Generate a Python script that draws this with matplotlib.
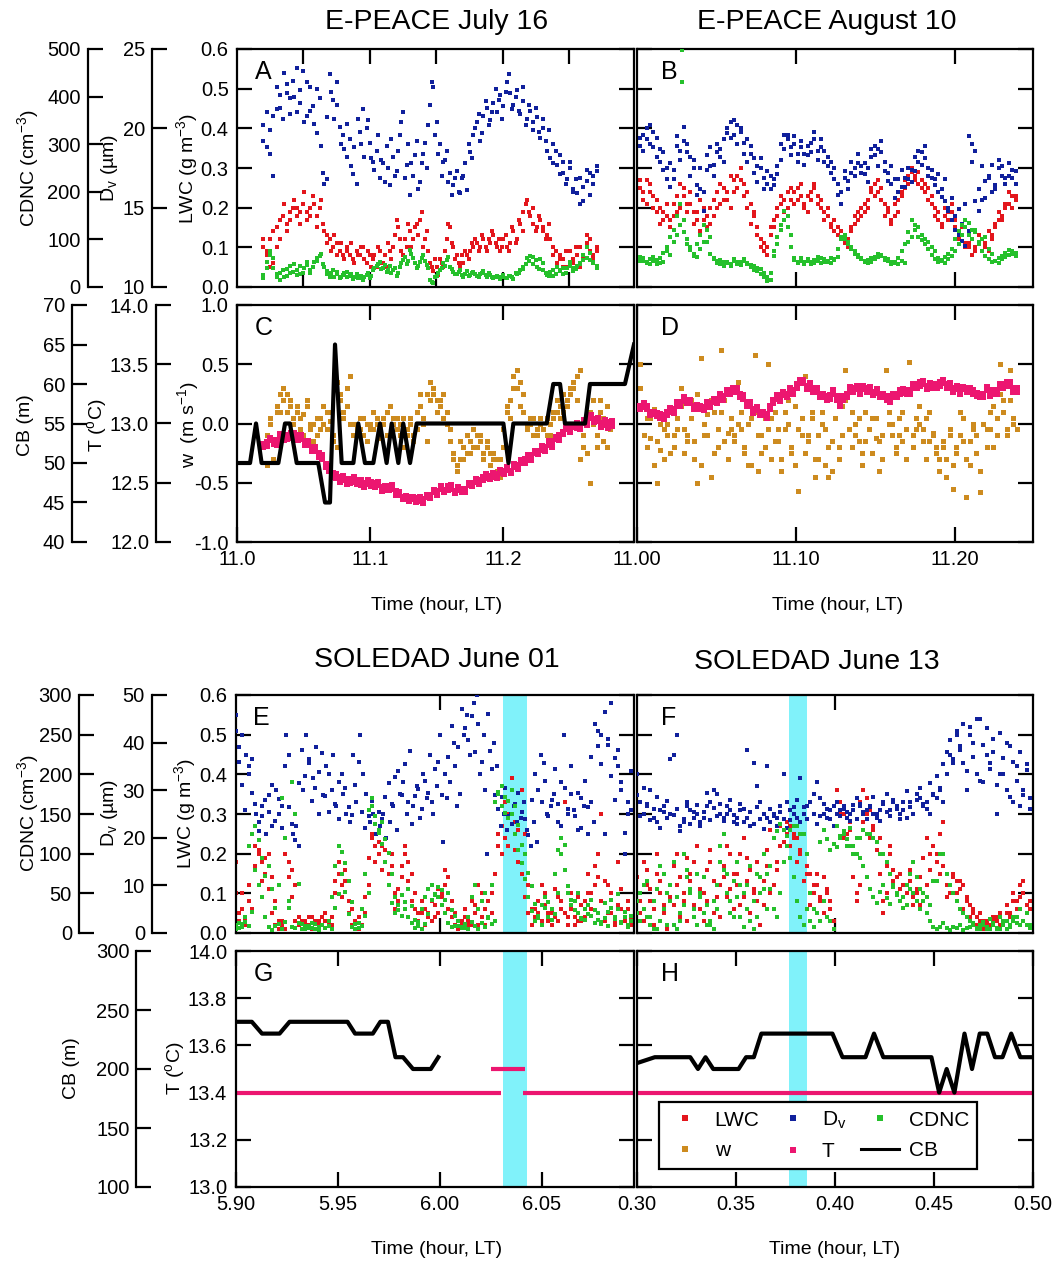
import numpy as np
import matplotlib
matplotlib.use("Agg")
import matplotlib.pyplot as plt
import matplotlib.ticker as mticker
from matplotlib.lines import Line2D

plt.rcParams["font.family"] = ["Liberation Sans", "DejaVu Sans"]
plt.rcParams["mathtext.fontset"] = "custom"
plt.rcParams["mathtext.rm"] = "Liberation Sans"
plt.rcParams["mathtext.default"] = "regular"
plt.rcParams["axes.unicode_minus"] = False

# ── colours ──────────────────────────────────────────────────────────────────
COL_LWC = "#E3161C"
COL_DV = "#10209C"
COL_CDNC = "#25C02B"
COL_W = "#CD8B1F"
COL_T = "#EC1670"
COL_BAND = "#80F2FA"

# ── E-PEACE July 16 (panel A) ────────────────────────────────────────────────
A_t = (11.0198, 11.2704)
A_lwc = [0.10, 0.08, 0.12, 0.06, 0.15, 0.12, 0.18, 0.14, 0.17, 0.20,
         0.18, 0.19, 0.21, 0.17, 0.20, 0.23, 0.18, 0.20, 0.16, 0.13,
         0.12, 0.10, 0.11, 0.09, 0.08, 0.10, 0.08, 0.07, 0.09, 0.08,
         0.10, 0.06, 0.08, 0.07, 0.05, 0.09, 0.06, 0.05, 0.09, 0.10,
         0.17, 0.12, 0.08, 0.10, 0.14, 0.12, 0.16, 0.17, 0.10, 0.14,
         0.06, 0.04, 0.05, 0.07, 0.05, 0.12, 0.15, 0.10, 0.08, 0.05,
         0.06, 0.08, 0.09, 0.10, 0.11, 0.10, 0.12, 0.09, 0.11, 0.13,
         0.10, 0.09, 0.12, 0.10, 0.11, 0.14, 0.12, 0.16, 0.19, 0.22,
         0.18, 0.16, 0.15, 0.17, 0.14, 0.13, 0.12, 0.08, 0.06, 0.08,
         0.07, 0.05, 0.09, 0.06, 0.08, 0.10, 0.07, 0.13, 0.09, 0.08, 0.10]
A_lwc_2 = [0.12, 0.09, 0.05, 0.14, 0.10, 0.17, 0.21, 0.16, 0.19, 0.22,
           0.20, 0.16, 0.24, 0.19, 0.18, 0.21, 0.15, 0.22, 0.14, 0.11,
           0.09, 0.13, 0.08, 0.11, 0.07, 0.09, 0.11, 0.06, 0.08, 0.10,
           0.07, 0.09, 0.05, 0.08, 0.10, 0.06, 0.08, 0.11, 0.07, 0.13,
           0.15, 0.09, 0.12, 0.16, 0.10, 0.15, 0.13, 0.19, 0.12, 0.09,
           0.05, 0.07, 0.03, 0.06, 0.09, 0.16, 0.11, 0.07, 0.06, 0.08,
           0.09, 0.07, 0.11, 0.12, 0.09, 0.13, 0.10, 0.12, 0.14, 0.11,
           0.12, 0.10, 0.13, 0.09, 0.15, 0.11, 0.17, 0.14, 0.21, 0.19,
           0.20, 0.14, 0.18, 0.15, 0.12, 0.16, 0.10, 0.09, 0.07, 0.05,
           0.09, 0.06, 0.07, 0.10, 0.05, 0.08, 0.11, 0.12, 0.07, 0.09]
A_dv = [20.2, 18.8, 19.9, 17.0, 21.2, 22.1, 20.6, 22.8, 21.9, 23.0,
        21.0, 22.4, 23.6, 20.8, 22.6, 21.4, 19.7, 21.9, 17.2, 16.8,
        23.4, 21.8, 22.9, 20.1, 19.6, 18.2, 19.3, 17.1, 16.5, 19.8,
        21.2, 20.0, 19.1, 17.9, 18.6, 16.9, 17.8, 18.9, 16.4, 18.2,
        17.3, 19.6, 21.0, 17.7, 15.8, 17.0, 19.2, 16.6, 18.4, 17.5,
        21.5, 22.6, 20.4, 19.0, 17.9, 18.6, 17.2, 16.4, 17.3, 15.9,
        17.0, 16.1, 18.5, 19.6, 20.4, 19.2, 20.8, 21.3, 20.5, 21.6,
        21.0, 22.1, 21.4, 22.9, 22.2, 21.5, 22.4, 20.9, 21.7, 20.6,
        21.1, 19.9, 20.7, 19.4, 20.0, 18.6, 18.1, 19.0, 17.7, 18.3,
        17.2, 16.8, 17.5, 16.2, 15.9, 16.9, 15.4, 16.7, 17.2, 16.5, 17.6]
A_dv_2 = [19.2, 21.0, 18.4, 20.8, 22.6, 21.3, 23.5, 22.2, 20.9, 22.0,
          23.8, 21.6, 20.4, 22.9, 21.1, 20.3, 22.5, 18.9, 16.5, 20.7,
          22.3, 20.6, 21.5, 19.0, 18.7, 20.3, 17.6, 18.8, 20.6, 19.0,
          18.2, 20.5, 18.1, 17.4, 19.6, 18.0, 16.6, 17.5, 19.3, 17.0,
          18.6, 20.4, 16.9, 19.0, 17.8, 18.3, 16.2, 17.8, 19.1, 20.2,
          22.9, 19.6, 18.4, 17.0, 18.0, 16.6, 15.8, 16.9, 16.0, 16.9,
          17.8, 19.0, 18.1, 20.0, 20.9, 19.7, 21.7, 20.2, 21.0, 22.5,
          21.8, 20.6, 22.3, 23.4, 21.2, 22.0, 21.1, 22.6, 20.2, 21.5,
          20.4, 21.3, 19.8, 20.6, 19.2, 19.9, 17.8, 18.6, 17.1, 17.9,
          16.5, 17.9, 16.0, 16.8, 15.2, 16.3, 17.4, 15.8, 17.0, 17.3]
A_cdnc = [18, 52, 76, 40, 27, 15, 35, 24, 44, 31,
          26, 45, 30, 52, 35, 41, 60, 66, 48, 34,
          22, 35, 27, 18, 26, 31, 24, 16, 27, 19,
          15, 26, 18, 35, 44, 52, 40, 31, 44, 36,
          24, 43, 57, 48, 77, 60, 40, 52, 68, 47,
          15, 8, 24, 35, 50, 57, 43, 31, 27, 35,
          22, 34, 26, 31, 24, 27, 33, 22, 26, 18,
          24, 16, 26, 19, 23, 17, 27, 35, 41, 60,
          66, 49, 43, 58, 35, 26, 31, 24, 41, 35,
          27, 40, 52, 34, 44, 49, 68, 85, 57, 50, 40]
A_cdnc_2 = [25, 40, 68, 60, 20, 30, 22, 38, 30, 48,
            36, 28, 40, 46, 30, 52, 55, 70, 42, 28,
            30, 20, 32, 22, 30, 20, 28, 22, 18, 24,
            20, 30, 24, 40, 48, 38, 46, 36, 30, 40,
            30, 50, 62, 55, 70, 50, 45, 60, 55, 40,
            10, 20, 30, 40, 45, 62, 38, 28, 32, 25,
            28, 24, 30, 28, 20, 30, 26, 30, 20, 22,
            20, 22, 18, 24, 20, 30, 30, 38, 48, 55,
            62, 56, 38, 50, 30, 24, 36, 28, 34, 40,
            30, 44, 40, 38, 50, 56, 60, 72, 52, 45]

# ── E-PEACE August 10 (panel B) ──────────────────────────────────────────────
B_t = (11.0019, 11.238)
B_lwc = [0.25, 0.22, 0.27, 0.24, 0.23, 0.19, 0.20, 0.17, 0.18, 0.15,
         0.21, 0.19, 0.26, 0.23, 0.21, 0.24, 0.19, 0.17, 0.14, 0.20,
         0.18, 0.16, 0.22, 0.20, 0.26, 0.22, 0.24, 0.20, 0.27, 0.25,
         0.30, 0.26, 0.24, 0.21, 0.18, 0.15, 0.12, 0.09, 0.10, 0.13,
         0.15, 0.18, 0.21, 0.19, 0.24, 0.22, 0.21, 0.25, 0.23, 0.20,
         0.19, 0.24, 0.26, 0.23, 0.22, 0.19, 0.18, 0.15, 0.17, 0.13,
         0.14, 0.11, 0.12, 0.15, 0.16, 0.19, 0.18, 0.21, 0.20, 0.24,
         0.23, 0.27, 0.25, 0.21, 0.19, 0.17, 0.18, 0.22, 0.23, 0.25,
         0.26, 0.29, 0.28, 0.26, 0.27, 0.24, 0.25, 0.21, 0.20, 0.17,
         0.16, 0.18, 0.19, 0.21, 0.17, 0.14, 0.15, 0.11, 0.10, 0.12,
         0.09, 0.11, 0.12, 0.10, 0.09, 0.13, 0.15, 0.17, 0.18, 0.20,
         0.21, 0.23, 0.22]
B_lwc_2 = [0.27, 0.24, 0.21, 0.26, 0.20, 0.22, 0.16, 0.19, 0.21, 0.17,
           0.18, 0.23, 0.20, 0.25, 0.19, 0.21, 0.16, 0.19, 0.22, 0.17,
           0.15, 0.20, 0.18, 0.24, 0.21, 0.25, 0.22, 0.28, 0.24, 0.28,
           0.27, 0.23, 0.20, 0.16, 0.19, 0.13, 0.10, 0.11, 0.08, 0.15,
           0.17, 0.20, 0.23, 0.22, 0.20, 0.25, 0.24, 0.22, 0.26, 0.21,
           0.23, 0.22, 0.25, 0.21, 0.20, 0.17, 0.20, 0.16, 0.14, 0.15,
           0.12, 0.13, 0.10, 0.14, 0.18, 0.17, 0.20, 0.19, 0.22, 0.25,
           0.26, 0.24, 0.22, 0.18, 0.20, 0.16, 0.21, 0.19, 0.24, 0.27,
           0.28, 0.30, 0.27, 0.29, 0.25, 0.26, 0.22, 0.23, 0.18, 0.19,
           0.15, 0.20, 0.17, 0.19, 0.15, 0.12, 0.13, 0.10, 0.11, 0.08,
           0.10, 0.13, 0.09, 0.11, 0.14, 0.12, 0.16, 0.19, 0.17, 0.21,
           0.24, 0.20, 0.23]
B_dv = [18.9, 19.6, 19.3, 20.2, 18.8, 19.4, 18.7, 17.4, 17.5, 16.3,
        16.8, 18.9, 18.0, 20.1, 19.0, 18.2, 17.5, 16.4, 16.2, 14.8,
        18.3, 17.6, 17.7, 18.5, 18.7, 17.9, 20.0, 19.4, 20.5, 20.2,
        19.8, 19.1, 19.3, 18.4, 18.1, 17.6, 17.5, 16.9, 17.3, 16.2,
        16.8, 17.1, 18.0, 19.6, 19.3, 18.8, 19.0, 18.4, 18.8, 17.7,
        18.3, 19.1, 19.3, 18.6, 18.8, 17.9, 18.2, 17.2, 17.5, 15.8,
        16.0, 16.9, 16.7, 17.2, 17.5, 17.8, 17.6, 17.1, 17.5, 18.2,
        18.3, 18.7, 18.5, 17.3, 17.2, 16.5, 16.8, 16.0, 16.3, 16.9,
        16.8, 17.4, 17.3, 17.9, 18.5, 18.1, 17.5, 16.9, 16.8, 16.0,
        16.2, 15.4, 14.8, 14.2, 13.6, 13.3, 14.0, 12.6, 13.5, 19.0,
        18.6, 14.8, 15.5, 16.7, 17.0, 16.0, 16.4, 17.5, 17.6, 16.9,
        17.0, 17.4, 16.5]
B_dv_2 = [19.4, 18.6, 20.0, 19.0, 19.8, 18.2, 17.9, 18.5, 16.8, 17.8,
          17.4, 19.5, 18.6, 19.2, 18.5, 17.0, 18.0, 15.8, 17.5, 16.0,
          17.4, 18.8, 17.0, 19.0, 18.2, 19.3, 19.7, 20.4, 19.6, 19.0,
          20.0, 18.4, 17.9, 18.9, 17.2, 16.6, 18.1, 16.2, 16.5, 17.0,
          16.4, 17.6, 19.0, 18.7, 19.6, 18.3, 19.5, 17.9, 19.2, 18.4,
          18.9, 18.5, 19.8, 18.0, 19.3, 18.6, 17.6, 17.9, 16.8, 16.5,
          15.2, 17.3, 16.2, 17.9, 17.0, 18.4, 17.2, 17.8, 16.6, 18.7,
          18.9, 17.6, 19.2, 17.9, 16.7, 17.6, 15.6, 16.8, 17.4, 16.3,
          17.5, 16.6, 18.2, 18.6, 17.7, 18.9, 17.0, 17.4, 16.4, 17.1,
          15.7, 16.8, 15.0, 15.6, 14.5, 14.9, 12.9, 15.2, 19.5, 17.9,
          15.4, 16.2, 17.6, 15.6, 16.9, 17.7, 16.2, 18.0, 17.0, 16.5,
          17.8, 16.9, 17.3]
B_cdnc = [62, 55, 50, 58, 54, 48, 60, 52, 75, 68,
          95, 110, 130, 140, 100, 85, 70, 62, 80, 95,
          120, 105, 60, 55, 48, 52, 50, 45, 55, 48,
          52, 58, 50, 46, 44, 40, 38, 30, 20, 15,
          65, 90, 120, 140, 150, 110, 60, 52, 55, 48,
          58, 52, 50, 55, 60, 52, 55, 50, 58, 62,
          100, 110, 95, 85, 75, 68, 60, 55, 50, 52,
          58, 62, 68, 60, 58, 52, 50, 48, 55, 50,
          95, 105, 130, 125, 110, 100, 95, 85, 75, 60,
          55, 50, 58, 65, 75, 90, 110, 125, 135, 120,
          115, 95, 100, 105, 80, 70, 55, 50, 58, 62,
          68, 75, 72]
B_cdnc_2 = [55, 60, 52, 48, 62, 56, 50, 72, 85, 105,
            120, 150, 175, 115, 90, 78, 65, 90, 110, 130,
            95, 70, 58, 50, 56, 44, 52, 48, 58, 52,
            46, 54, 48, 42, 36, 34, 28, 22, 12, 30,
            75, 105, 130, 160, 125, 85, 56, 50, 60, 52,
            54, 48, 56, 62, 50, 58, 52, 60, 56, 80,
            105, 100, 90, 80, 70, 62, 58, 52, 56, 60,
            64, 70, 66, 56, 54, 48, 52, 60, 75, 90,
            115, 140, 120, 105, 98, 90, 80, 68, 58, 52,
            56, 62, 70, 80, 100, 118, 130, 140, 110, 100,
            120, 90, 75, 66, 58, 52, 55, 60, 65, 72,
            78, 70, 66]
B_cdnc_out_t = [11.028, 11.028]
B_cdnc_out = [497, 431]

# ── panel C ──────────────────────────────────────────────────────────────────
C_w_t = (11.0223, 11.2805)
C_w = [-0.10, 0.05, -0.30, 0.15, 0.10, 0.20, 0.25, 0.15, 0.05, 0.10,
       -0.05, 0.08, 0.15, -0.05, 0.00, -0.10, 0.05, 0.00, 0.10, 0.02,
       -0.10, -0.20, 0.25, 0.10, 0.30, 0.40, 0.00, -0.05, 0.05, -0.10,
       0.00, -0.05, 0.10, 0.00, -0.12, 0.05, -0.10, 0.15, 0.05, -0.05,
       0.00, -0.20, -0.10, 0.05, -0.15, -0.05, 0.25, 0.00, -0.15, 0.20,
       0.30, 0.20, 0.15, 0.25, 0.10, -0.05, -0.25, -0.40, -0.30, -0.20,
       -0.25, -0.15, -0.20, -0.10, -0.15, -0.30, -0.20, -0.25, -0.30, -0.40,
       -0.45, -0.20, 0.15, 0.05, 0.30, 0.45, 0.35, 0.25, 0.00, 0.05,
       -0.10, -0.05, 0.05, -0.20, -0.10, 0.00, 0.10, 0.20, 0.05, 0.25,
       0.15, 0.30, 0.35, 0.40, 0.45, -0.20, 0.05, -0.50, 0.20, -0.10,
       0.10, -0.15, 0.15, -0.05]
C_w_2 = [-0.35, 0.00, -0.15, 0.10, 0.25, 0.30, 0.10, 0.20, 0.00, 0.15,
         0.05, -0.10, 0.20, 0.00, -0.15, 0.05, -0.05, 0.15, -0.05, 0.10,
         -0.15, 0.35, 0.20, 0.05, 0.15, 0.00, -0.10, 0.00, -0.05, 0.05,
         -0.15, 0.00, -0.05, 0.05, -0.05, 0.00, 0.10, -0.10, 0.00, 0.05,
         -0.10, 0.05, -0.05, 0.00, -0.10, 0.10, 0.15, 0.05, 0.25, 0.35,
         0.25, 0.10, 0.20, 0.05, 0.00, -0.15, -0.30, -0.35, -0.15, -0.30,
         -0.10, -0.25, -0.05, -0.20, -0.10, -0.25, -0.15, -0.35, -0.25, -0.30,
         -0.30, -0.05, 0.10, 0.20, 0.40, 0.30, 0.15, 0.10, -0.05, 0.00,
         0.05, -0.10, 0.00, -0.05, 0.05, -0.10, 0.05, 0.10, 0.15, 0.10,
         0.20, 0.25, 0.30, 0.20, -0.30, -0.10, -0.25, 0.10, 0.00, -0.20,
         0.20, 0.05, -0.20, 0.00]
C_T_t = (11.0196, 11.2817)
C_T = [12.80, 12.84, 12.86, 12.83, 12.85, 12.88, 12.86, 12.90, 12.88, 12.92,
       12.90, 12.87, 12.85, 12.82, 12.80, 12.77, 12.75, 12.70, 12.66, 12.60,
       12.58, 12.54, 12.55, 12.52, 12.53, 12.50, 12.55, 12.52, 12.48, 12.50,
       12.52, 12.47, 12.50, 12.48, 12.46, 12.44, 12.47, 12.45, 12.43, 12.40,
       12.38, 12.37, 12.38, 12.36, 12.37, 12.35, 12.36, 12.38, 12.40, 12.42,
       12.43, 12.45, 12.44, 12.47, 12.45, 12.43, 12.44, 12.42, 12.45, 12.48,
       12.50, 12.51, 12.52, 12.55, 12.54, 12.56, 12.55, 12.57, 12.58, 12.60,
       12.61, 12.60, 12.63, 12.65, 12.67, 12.70, 12.71, 12.73, 12.75, 12.77,
       12.78, 12.80, 12.82, 12.85, 12.87, 12.90, 12.93, 12.95, 12.96, 12.97,
       12.96, 12.98, 13.00, 13.02, 13.05, 13.04, 13.02, 13.00, 12.99, 13.01, 12.98]
C_T_2 = [12.83, 12.81, 12.88, 12.86, 12.82, 12.91, 12.89, 12.87, 12.92, 12.89,
         12.86, 12.90, 12.82, 12.85, 12.77, 12.80, 12.72, 12.73, 12.63, 12.64,
         12.55, 12.57, 12.51, 12.56, 12.49, 12.53, 12.51, 12.49, 12.52, 12.46,
         12.49, 12.51, 12.46, 12.51, 12.43, 12.47, 12.44, 12.48, 12.40, 12.42,
         12.36, 12.39, 12.35, 12.38, 12.34, 12.38, 12.33, 12.40, 12.37, 12.44,
         12.40, 12.47, 12.42, 12.44, 12.48, 12.41, 12.46, 12.45, 12.42, 12.50,
         12.47, 12.53, 12.49, 12.52, 12.57, 12.53, 12.58, 12.54, 12.61, 12.57,
         12.63, 12.58, 12.66, 12.62, 12.69, 12.67, 12.73, 12.69, 12.77, 12.74,
         12.81, 12.77, 12.85, 12.80, 12.89, 12.86, 12.91, 12.97, 12.93, 12.99,
         13.00, 12.95, 13.03, 12.99, 13.07, 13.01, 13.05, 12.97, 13.03, 12.96, 13.02]
C_cb_t = [11.0, 11.0098, 11.0143, 11.0185, 11.0311, 11.0361, 11.0398, 11.0449,
          11.0611, 11.0662, 11.0699, 11.0737, 11.0787, 11.0875, 11.0912, 11.0962,
          11.1025, 11.1075, 11.1125, 11.1163, 11.1213, 11.1250, 11.1301, 11.1351,
          11.2003, 11.2041, 11.2078, 11.2329, 11.2378, 11.2429, 11.2466, 11.2617,
          11.2654, 11.2917, 11.2985]
C_cb = [50, 50, 55, 50, 50, 55, 55, 50, 50, 45, 45, 65, 50, 50, 55, 50, 50, 55,
        50, 55, 50, 55, 50, 55, 55, 50, 55, 55, 60, 60, 55, 55, 60, 60, 65]

# ── panel D ──────────────────────────────────────────────────────────────────
D_t = (11.002, 11.2388)
D_T = [13.15, 13.17, 13.12, 13.10, 13.08, 13.06, 13.05, 13.07, 13.07, 13.10,
       13.12, 13.15, 13.18, 13.19, 13.20, 13.17, 13.15, 13.13, 13.12, 13.14,
       13.15, 13.17, 13.18, 13.20, 13.22, 13.23, 13.25, 13.28, 13.30, 13.27,
       13.25, 13.21, 13.18, 13.15, 13.12, 13.11, 13.10, 13.07, 13.05, 13.12,
       13.20, 13.21, 13.22, 13.24, 13.25, 13.27, 13.28, 13.33, 13.37, 13.34,
       13.32, 13.31, 13.30, 13.27, 13.25, 13.22, 13.20, 13.24, 13.28, 13.20,
       13.15, 13.20, 13.25, 13.28, 13.30, 13.29, 13.28, 13.29, 13.30, 13.28,
       13.27, 13.26, 13.25, 13.22, 13.20, 13.21, 13.22, 13.25, 13.28, 13.26,
       13.25, 13.28, 13.30, 13.33, 13.35, 13.33, 13.32, 13.31, 13.30, 13.33,
       13.35, 13.34, 13.33, 13.31, 13.30, 13.29, 13.28, 13.29, 13.30, 13.27,
       13.25, 13.23, 13.22, 13.25, 13.28, 13.26, 13.25, 13.28, 13.30, 13.33,
       13.35, 13.32, 13.30, 13.27]
D_T_2 = [13.12, 13.14, 13.15, 13.07, 13.10, 13.09, 13.08, 13.04, 13.10, 13.13,
         13.09, 13.18, 13.15, 13.22, 13.17, 13.20, 13.12, 13.16, 13.15, 13.11,
         13.18, 13.14, 13.21, 13.17, 13.25, 13.20, 13.28, 13.25, 13.27, 13.30,
         13.22, 13.24, 13.15, 13.18, 13.09, 13.14, 13.07, 13.10, 13.08, 13.15,
         13.17, 13.24, 13.19, 13.27, 13.22, 13.30, 13.25, 13.30, 13.34, 13.37,
         13.29, 13.34, 13.27, 13.30, 13.22, 13.25, 13.23, 13.21, 13.25, 13.23,
         13.18, 13.23, 13.22, 13.31, 13.27, 13.32, 13.25, 13.32, 13.27, 13.31,
         13.24, 13.29, 13.22, 13.25, 13.23, 13.18, 13.25, 13.22, 13.25, 13.29,
         13.28, 13.25, 13.33, 13.30, 13.32, 13.36, 13.29, 13.34, 13.33, 13.30,
         13.32, 13.37, 13.30, 13.34, 13.27, 13.32, 13.25, 13.31, 13.27, 13.30,
         13.28, 13.26, 13.25, 13.22, 13.31, 13.23, 13.28, 13.25, 13.33, 13.30,
         13.32, 13.35, 13.27, 13.30]
D_w = [0.50, 0.18, 0.05, -0.12, 0.12, -0.50, -0.22, -0.05, 0.00, -0.25,
       -0.10, 0.05, 0.30, -0.05, -0.15, 0.20, -0.30, -0.50, 0.55, -0.10,
       0.08, -0.45, 0.10, -0.20, 0.62, 0.20, -0.08, -0.05, -0.15, 0.00,
       0.10, -0.25, -0.35, 0.05, 0.58, -0.40, -0.10, -0.20, 0.50, 0.05,
       -0.15, -0.05, -0.40, 0.10, 0.00, -0.25, 0.15, -0.57, -0.10, 0.40,
       -0.10, 0.05, -0.45, -0.30, 0.10, -0.05, -0.20, -0.40, 0.05, -0.20,
       0.15, 0.45, 0.30, 0.10, -0.10, 0.05, -0.25, -0.15, 0.30, 0.05,
       -0.12, -0.40, -0.10, 0.45, 0.10, 0.00, -0.20, -0.10, 0.10, -0.30,
       0.52, -0.10, 0.05, 0.15, -0.05, 0.05, -0.15, -0.08, -0.20, -0.30,
       -0.20, -0.45, -0.10, -0.55, -0.25, 0.10, -0.15, -0.62, -0.35, 0.00,
       -0.10, -0.58, 0.25, -0.05, 0.10, -0.20, 0.05, 0.50, 0.20, -0.10,
       0.45, 0.05, -0.05]
D_w_2 = [0.30, -0.10, -0.20, 0.05, -0.35, -0.15, 0.00, -0.30, -0.10, 0.10,
         -0.20, -0.05, 0.15, -0.25, -0.10, 0.05, -0.15, 0.25, -0.35, 0.00,
         -0.10, 0.20, -0.25, -0.05, 0.10, -0.15, -0.30, 0.05, -0.10, 0.35,
         -0.05, -0.20, 0.00, -0.35, 0.10, -0.10, -0.25, 0.05, -0.05, -0.30,
         0.10, -0.15, -0.30, -0.05, 0.20, -0.20, -0.35, -0.05, 0.05, -0.25,
         -0.15, 0.10, -0.30, -0.10, 0.00, -0.35, -0.45, -0.15, 0.05, -0.30,
         -0.10, 0.20, -0.05, -0.20, 0.00, -0.15, -0.35, 0.10, -0.05, -0.25,
         0.05, -0.15, -0.30, 0.20, 0.00, -0.10, -0.25, 0.05, -0.15, -0.05,
         0.25, -0.20, -0.05, 0.00, -0.15, -0.30, 0.10, -0.10, -0.25, -0.40,
         -0.15, -0.30, -0.05, -0.35, -0.20, -0.10, 0.05, -0.30, -0.15, -0.05,
         -0.25, -0.40, 0.00, -0.20, -0.05, 0.15, -0.10, 0.25, 0.10, -0.05,
         0.20, 0.00, 0.30]

# ── SOLEDAD June 01 (panel E) ────────────────────────────────────────────────
E_t = (5.900, 6.094)
E_lwc = [0.18, 0.05, 0.10, 0.03, 0.08, 0.06, 0.22, 0.20, 0.18, 0.15,
         0.20, 0.14, 0.08, 0.03, 0.02, 0.01, 0.18, 0.16, 0.12, 0.04,
         0.03, 0.02, 0.04, 0.01, 0.03, 0.02, 0.04, 0.03, 0.02, 0.04,
         0.10, 0.15, 0.12, 0.16, 0.08, 0.06, 0.03, 0.04, 0.02, 0.05,
         0.12, 0.24, 0.22, 0.20, 0.22, 0.18, 0.15, 0.20, 0.10, 0.08,
         0.14, 0.20, 0.18, 0.15, 0.10, 0.05, 0.08, 0.06, 0.04, 0.03,
         0.07, 0.05, 0.09, 0.12, 0.14, 0.08, 0.05, 0.03, 0.02, 0.04,
         0.02, 0.08, 0.05, 0.02, 0.10, 0.06, 0.04, 0.10, 0.03, 0.22,
         0.20, 0.24, 0.30, 0.39, 0.28, 0.18, 0.36, 0.25, 0.12, 0.06,
         0.04, 0.08, 0.03, 0.10, 0.05, 0.02, 0.04, 0.09, 0.06, 0.33,
         0.04, 0.10, 0.02, 0.03, 0.07, 0.04, 0.10, 0.06, 0.12, 0.20,
         0.30, 0.13, 0.05, 0.10, 0.03, 0.18, 0.06, 0.04, 0.08, 0.02]
E_lwc_2 = [0.10, 0.03, 0.06, 0.02, 0.12, 0.25, 0.17, 0.21, 0.13, 0.19,
           0.11, 0.05, 0.02, 0.01, 0.03, 0.20, 0.14, 0.09, 0.03, 0.02,
           0.01, 0.03, 0.02, 0.04, 0.01, 0.03, 0.02, 0.05, 0.03, 0.02,
           0.13, 0.18, 0.09, 0.13, 0.05, 0.02, 0.03, 0.01, 0.06, 0.09,
           0.19, 0.25, 0.18, 0.23, 0.16, 0.21, 0.12, 0.17, 0.06, 0.11,
           0.17, 0.22, 0.13, 0.08, 0.06, 0.03, 0.05, 0.02, 0.05, 0.08,
           0.04, 0.11, 0.10, 0.16, 0.06, 0.04, 0.02, 0.01, 0.03, 0.06,
           0.03, 0.02, 0.07, 0.12, 0.04, 0.02, 0.08, 0.05, 0.15, 0.25,
           0.27, 0.33, 0.22, 0.30, 0.21, 0.26, 0.15, 0.09, 0.05, 0.02,
           0.06, 0.05, 0.12, 0.07, 0.03, 0.05, 0.11, 0.03, 0.08, 0.05,
           0.02, 0.06, 0.04, 0.09, 0.03, 0.08, 0.15, 0.10, 0.17, 0.14,
           0.08, 0.03, 0.12, 0.05, 0.02, 0.07, 0.11, 0.03, 0.06, 0.04]
E_dv = [45.8, 39.0, 41.7, 37.5, 33.3, 36.6, 25.0, 23.3, 26.7, 20.8,
        29.0, 22.5, 30.0, 25.0, 26.7, 41.7, 37.5, 20.8, 22.5, 18.3,
        30.0, 41.7, 35.8, 32.5, 39.0, 25.0, 29.0, 35.0, 33.3, 37.5,
        26.7, 31.7, 29.2, 25.0, 23.3, 37.5, 27.5, 41.7, 33.3, 29.2,
        23.3, 25.0, 20.8, 22.5, 25.0, 20.0, 23.3, 26.7, 21.7, 29.2,
        31.7, 25.0, 38.3, 26.7, 30.8, 24.2, 33.3, 28.3, 37.5, 25.0,
        30.8, 41.7, 19.2, 28.3, 31.7, 40.0, 26.7, 29.2, 41.7, 45.8,
        37.5, 48.3, 50.0, 33.3, 41.7, 16.7, 38.3, 40.0, 35.0, 22.5,
        25.0, 21.7, 25.0, 26.7, 23.3, 24.2, 27.5, 21.7, 18.3, 23.3,
        19.2, 37.5, 35.8, 25.0, 26.7, 29.2, 23.3, 31.7, 41.7, 25.0,
        29.2, 25.8, 21.7, 28.3, 26.7, 20.8, 27.5, 23.3, 39.2, 41.7,
        20.8, 40.8, 48.3, 36.7, 35.0, 31.7, 16.7, 25.0, 25.8]
E_dv_2 = [42.5, 36.0, 31.0, 25.8, 35.0, 29.5, 27.0, 21.5, 24.6, 28.0,
          25.5, 31.0, 23.5, 28.2, 22.0, 35.0, 26.5, 23.0, 19.5, 31.5,
          38.5, 33.0, 36.5, 27.8, 30.5, 33.8, 37.8, 28.8, 25.5, 30.0,
          27.0, 24.0, 33.5, 30.5, 26.5, 24.8, 31.0, 36.0, 25.4, 22.0,
          24.5, 27.8, 22.8, 25.5, 24.0, 28.5, 31.5, 27.0, 32.8, 34.0,
          29.0, 35.5, 27.5, 23.0, 28.7, 30.2, 26.0, 32.0, 29.5, 27.5,
          34.5, 36.0, 29.0, 33.5, 37.0, 43.5, 35.0, 39.0, 47.0, 43.0,
          40.5, 45.5, 38.0, 44.0, 36.0, 30.0, 46.0, 34.5, 29.0, 26.0,
          28.5, 30.5, 24.5, 22.8, 27.0, 29.5, 25.5, 24.0, 20.5, 28.0,
          33.5, 30.0, 27.5, 32.0, 24.5, 28.0, 34.5, 27.0, 22.5, 30.5,
          26.0, 35.0, 24.5, 29.5, 22.0, 32.0, 26.5, 37.0, 44.0, 42.5,
          35.5, 46.5, 39.5, 33.0, 28.0, 38.5, 30.0, 21.0, 27.5, 34.0]
E_cdnc = [10, 6, 11, 14, 9, 26, 135, 117, 94, 72,
          84, 55, 31, 11, 5, 14, 31, 190, 150, 62,
          11, 5, 9, 6, 11, 4, 10, 6, 9, 5,
          31, 49, 102, 88, 66, 39, 11, 6, 9, 21,
          51, 160, 148, 126, 140, 118, 101, 74, 46, 29,
          21, 39, 56, 34, 16, 9, 5, 11, 24, 41,
          49, 46, 54, 41, 50, 29, 21, 9, 6, 11,
          5, 14, 9, 5, 40, 51, 19, 11, 15, 175,
          185, 151, 166, 180, 160, 136, 111, 99, 76, 59,
          36, 19, 10, 31, 39, 16, 24, 51, 99, 111,
          59, 41, 29, 51, 19, 16, 24, 41, 29, 16,
          11, 19, 9, 31, 20, 49, 14, 26, 10, 21]
E_cdnc_2 = [5, 12, 8, 20, 110, 125, 80, 60, 45, 20,
            8, 4, 9, 60, 170, 120, 40, 8, 6, 12,
            5, 9, 6, 12, 5, 8, 10, 6, 15, 45,
            85, 110, 75, 52, 24, 8, 5, 12, 30, 75,
            155, 170, 138, 130, 112, 90, 60, 38, 25, 35,
            48, 30, 20, 12, 6, 14, 30, 45, 55, 60,
            48, 58, 35, 25, 12, 7, 9, 15, 8, 6,
            20, 45, 60, 30, 12, 8, 20, 60, 165, 178,
            160, 172, 145, 150, 125, 105, 88, 68, 45, 28,
            15, 22, 35, 45, 20, 30, 75, 105, 120, 80,
            50, 35, 40, 25, 18, 30, 35, 22, 12, 25,
            14, 38, 26, 42, 18, 30, 12, 20, 8, 15]

# ── SOLEDAD June 13 (panel F) ────────────────────────────────────────────────
F_t = (0.300, 0.4985)
F_lwc = [0.10, 0.05, 0.18, 0.12, 0.08, 0.02, 0.15, 0.10, 0.05, 0.01,
         0.12, 0.07, 0.20, 0.14, 0.08, 0.03, 0.15, 0.18, 0.22, 0.06,
         0.10, 0.16, 0.18, 0.05, 0.06, 0.12, 0.14, 0.09, 0.20, 0.15,
         0.12, 0.07, 0.24, 0.19, 0.16, 0.11, 0.08, 0.02, 0.13, 0.17,
         0.10, 0.06, 0.18, 0.22, 0.26, 0.25, 0.27, 0.24, 0.24, 0.20,
         0.25, 0.15, 0.15, 0.10, 0.12, 0.08, 0.14, 0.10, 0.06, 0.03,
         0.36, 0.30, 0.30, 0.25, 0.28, 0.22, 0.10, 0.12, 0.36, 0.30,
         0.31, 0.26, 0.29, 0.24, 0.05, 0.10, 0.20, 0.16, 0.14, 0.11,
         0.12, 0.10, 0.13, 0.09, 0.10, 0.07, 0.08, 0.12, 0.20, 0.22,
         0.18, 0.15, 0.28, 0.12, 0.10, 0.14, 0.13, 0.11, 0.12, 0.08,
         0.07, 0.05, 0.04, 0.03, 0.03, 0.02, 0.02, 0.03, 0.04, 0.02,
         0.03, 0.05, 0.05, 0.08, 0.08, 0.12, 0.10, 0.07, 0.06]
F_lwc_2 = [0.14, 0.08, 0.03, 0.16, 0.11, 0.06, 0.20, 0.13, 0.07, 0.02,
           0.09, 0.17, 0.12, 0.04, 0.10, 0.19, 0.13, 0.07, 0.15, 0.11,
           0.03, 0.08, 0.21, 0.13, 0.09, 0.04, 0.17, 0.22, 0.11, 0.06,
           0.15, 0.20, 0.09, 0.13, 0.05, 0.10, 0.18, 0.14, 0.07, 0.21,
           0.26, 0.12, 0.16, 0.27, 0.23, 0.28, 0.22, 0.25, 0.18, 0.21,
           0.13, 0.17, 0.07, 0.12, 0.15, 0.09, 0.05, 0.11, 0.08, 0.32,
           0.27, 0.33, 0.24, 0.29, 0.26, 0.14, 0.08, 0.33, 0.28, 0.34,
           0.24, 0.27, 0.21, 0.15, 0.08, 0.17, 0.22, 0.13, 0.10, 0.15,
           0.09, 0.12, 0.16, 0.07, 0.11, 0.14, 0.19, 0.24, 0.16, 0.13,
           0.20, 0.25, 0.17, 0.09, 0.12, 0.15, 0.10, 0.13, 0.06, 0.09,
           0.04, 0.06, 0.02, 0.05, 0.01, 0.03, 0.02, 0.04, 0.03, 0.05,
           0.02, 0.07, 0.04, 0.10, 0.06, 0.09, 0.13, 0.05, 0.08]
F_dv = [33.3, 27.5, 25.0, 26.7, 30.0, 24.2, 23.3, 25.8, 26.7, 24.2,
        25.0, 37.5, 41.7, 22.5, 23.3, 26.7, 25.8, 24.2, 25.0, 23.3,
        24.2, 26.7, 27.5, 30.0, 29.2, 25.0, 24.2, 26.7, 25.8, 23.3,
        24.2, 25.8, 23.3, 24.2, 22.5, 35.8, 30.8, 27.5, 25.0, 24.2,
        23.3, 25.0, 24.2, 26.7, 33.3, 27.5, 25.8, 25.0, 24.2, 23.3,
        25.0, 26.7, 27.5, 29.2, 31.7, 28.3, 25.0, 24.2, 25.8, 26.7,
        25.0, 25.8, 26.7, 24.2, 25.0, 25.8, 28.3, 26.7, 25.0, 25.8,
        26.7, 25.0, 24.2, 25.8, 27.5, 29.2, 25.8, 27.5, 26.7, 25.0,
        25.8, 24.2, 27.5, 25.0, 29.2, 28.3, 26.7, 27.5, 25.0, 29.2,
        28.3, 30.0, 27.5, 33.3, 37.5, 35.8, 41.7, 39.2, 35.8, 30.0,
        43.3, 40.0, 33.3, 45.0, 31.7, 37.5, 35.8, 40.8, 25.0, 33.3,
        36.7, 30.0, 39.2, 27.5, 35.0, 26.7, 30.0, 34.2, 28.3]
F_dv_2 = [29.0, 24.5, 30.5, 27.0, 23.8, 26.0, 28.5, 22.0, 25.5, 27.8,
          36.5, 24.8, 26.0, 21.5, 24.0, 27.5, 23.0, 25.5, 26.8, 22.5,
          25.5, 29.5, 23.8, 26.2, 24.5, 27.0, 23.5, 25.0, 28.0, 24.8,
          22.8, 27.0, 26.0, 38.5, 25.5, 23.0, 26.5, 24.0, 21.8, 35.0,
          26.0, 24.5, 22.5, 25.5, 24.0, 22.0, 23.8, 26.5, 28.0, 32.5,
          26.5, 24.0, 27.5, 25.0, 23.0, 24.5, 27.0, 26.0, 24.0, 22.5,
          27.5, 24.5, 26.0, 25.5, 23.5, 26.8, 24.0, 27.0, 25.5, 24.0,
          26.5, 28.5, 25.0, 23.5, 27.0, 25.5, 24.5, 28.0, 26.0, 24.0,
          27.5, 29.8, 26.5, 25.0, 28.0, 30.5, 27.0, 26.0, 31.5, 29.0,
          33.0, 30.5, 35.5, 38.0, 40.5, 36.5, 42.5, 38.5, 44.0, 34.0,
          41.5, 37.0, 45.0, 32.0, 39.5, 43.0, 34.5, 38.0, 31.0, 42.0,
          33.5, 40.0, 28.5, 36.0, 32.0, 38.0, 29.0, 35.5, 26.0]
F_cdnc = [25, 50, 60, 20, 10, 40, 5, 15, 75, 50,
          40, 10, 5, 25, 100, 70, 50, 30, 75, 45,
          25, 10, 10, 40, 60, 90, 125, 75, 40, 20,
          90, 60, 50, 30, 15, 5, 75, 50, 100, 75,
          55, 30, 20, 50, 90, 110, 130, 135, 135, 125,
          125, 100, 50, 30, 25, 15, 40, 20, 15, 5,
          135, 120, 125, 110, 110, 100, 100, 120, 130, 125,
          125, 120, 115, 100, 100, 90, 75, 60, 50, 40,
          45, 35, 55, 50, 40, 30, 50, 45, 35, 65,
          65, 100, 100, 75, 60, 50, 40, 30, 25, 20,
          15, 10, 5, 5, 10, 5, 5, 10, 5, 5,
          15, 5, 10, 15, 20, 10, 15, 25, 10]
F_cdnc_2 = [40, 15, 30, 65, 20, 5, 55, 85, 30, 10,
            60, 90, 45, 15, 35, 80, 55, 20, 10, 50,
            70, 35, 15, 5, 30, 110, 80, 50, 25, 65,
            45, 20, 8, 60, 85, 40, 20, 70, 55, 30,
            85, 120, 128, 138, 130, 122, 95, 70, 40, 20,
            10, 30, 15, 8, 25, 115, 130, 118, 105, 112,
            108, 122, 128, 118, 132, 110, 120, 95, 85, 70,
            55, 45, 38, 52, 60, 44, 36, 58, 48, 40,
            32, 60, 75, 90, 70, 55, 40, 25, 15, 8,
            5, 8, 12, 6, 4, 8, 6, 10, 4, 6,
            8, 12, 6, 10, 14, 8, 18, 12, 6, 20,
            10, 15, 8, 20, 12, 30, 15, 10, 6]

# ── panels G / H (lines) ─────────────────────────────────────────────────────
G_cb_t = [5.900, 5.908, 5.913, 5.9216, 5.9265, 5.9549, 5.9586, 5.9673,
          5.9710, 5.9747, 5.9784, 5.9821, 5.9870, 5.9957, 5.9994]
G_cb = [240, 240, 230, 230, 240, 240, 230, 230, 240, 240, 210, 210, 200, 200, 210]
G_T_t = [5.900, 6.030]
G_T = [13.4, 13.4]
G_T2_t = [6.025, 6.042]
G_T2 = [13.5, 13.5]
G_T3_t = [6.041, 6.10]
G_T3 = [13.4, 13.4]
H_cb_t = [0.300, 0.309, 0.3269, 0.3308, 0.3346, 0.3385, 0.3513, 0.3551,
          0.3590, 0.3628, 0.3987, 0.4038, 0.4154, 0.4197, 0.4244, 0.4487,
          0.4526, 0.4564, 0.4603, 0.4654, 0.4692, 0.4731, 0.4769, 0.4808,
          0.4846, 0.4890, 0.4936, 0.500]
H_cb = [205, 210, 210, 200, 210, 200, 200, 210, 210, 230, 230, 210, 210, 230,
        210, 210, 180, 200, 180, 230, 200, 230, 230, 210, 210, 230, 210, 210]
H_T_t = [0.30, 0.50]
H_T = [13.4, 13.4]

# shaded sampling windows
E_band = (6.031, 6.043)
F_band = (0.3766, 0.3861)

# ── layout helpers (pixel geometry of the 1055 x 1263 canvas) ────────────────
FIG_W, FIG_H = 1055, 1263
LW = 1.6
TICK_FS = 14.5

fig = plt.figure(figsize=(FIG_W / 100, FIG_H / 100), dpi=100)


def rect(left, right, top, bottom):
    return [left / FIG_W, 1 - bottom / FIG_H, (right - left) / FIG_W, (bottom - top) / FIG_H]


def twin(ax, ylim, offset=None, ticks=None, fmt=None):
    tw = ax.twinx()
    tw.set_ylim(ylim)
    for s in tw.spines.values():
        s.set_visible(False)
    if offset is None:
        tw.yaxis.set_visible(False)
    else:
        sp = tw.spines["left"]
        sp.set_visible(True)
        sp.set_position(("outward", offset))
        sp.set_linewidth(LW)
        tw.yaxis.tick_left()
        tw.set_yticks(ticks)
        if fmt:
            tw.yaxis.set_major_formatter(mticker.FormatStrFormatter(fmt))
        tw.tick_params(axis="y", direction="in", length=11, width=LW,
                       labelsize=TICK_FS, pad=5)
    return tw


def style(ax, xlim, ylim, xticks, yticks, yfmt, left_labels, xfmt=None, letter="",
          letter_x=0.045):
    ax.set_xlim(xlim)
    ax.set_ylim(ylim)
    ax.set_xticks(xticks)
    ax.set_yticks(yticks)
    ax.yaxis.set_major_formatter(mticker.FormatStrFormatter(yfmt))
    if xfmt:
        ax.xaxis.set_major_formatter(mticker.FormatStrFormatter(xfmt))
    ax.tick_params(direction="in", length=11, width=LW, top=True, right=True,
                   left=True, bottom=True, labelsize=TICK_FS, pad=6,
                   labelleft=left_labels, labelbottom=xfmt is not None)
    for s in ax.spines.values():
        s.set_linewidth(LW)
    ax.text(letter_x, 0.955, letter, transform=ax.transAxes, fontsize=18,
            ha="left", va="top")


def dots(ax, span, series, color, ms=3.0):
    for vals in series:
        x = np.linspace(span[0], span[1], len(vals))
        ax.plot(x, vals, ls="none", marker="s", ms=ms, mew=0, color=color)


def vlabel(x, y, s):
    fig.text(x / FIG_W, 1 - y / FIG_H, s, rotation=90, fontsize=14,
             ha="center", va="center")


# ── panel A ──────────────────────────────────────────────────────────────────
axA = fig.add_axes(rect(237, 634, 49, 287))
dots(axA, A_t, [A_lwc, A_lwc_2], COL_LWC)
tA1 = twin(axA, (10, 25), 61.3, [10, 15, 20, 25], "%d")
dots(tA1, A_t, [A_dv, A_dv_2], COL_DV)
tA2 = twin(axA, (0, 500), 107.5, [0, 100, 200, 300, 400, 500], "%d")
dots(tA2, A_t, [A_cdnc, A_cdnc_2], COL_CDNC)
style(axA, (11.0, 11.2985), (0, 0.6), [11.05, 11.1, 11.15, 11.2, 11.25],
      np.arange(0, 0.61, 0.1), "%.1f", True, letter="A")

# ── panel B ──────────────────────────────────────────────────────────────────
axB = fig.add_axes(rect(637, 1033, 49, 287))
dots(axB, B_t, [B_lwc, B_lwc_2], COL_LWC)
tB1 = twin(axB, (10, 25))
dots(tB1, B_t, [B_dv, B_dv_2], COL_DV)
tB2 = twin(axB, (0, 500))
dots(tB2, B_t, [B_cdnc, B_cdnc_2], COL_CDNC)
tB2.plot(B_cdnc_out_t, B_cdnc_out, ls="none", marker="s", ms=3.0, mew=0, color=COL_CDNC)
style(axB, (11.0, 11.249), (0, 0.6), [11.1, 11.2], np.arange(0, 0.61, 0.1),
      "%.1f", False, letter="B", letter_x=0.06)

# ── panel C ──────────────────────────────────────────────────────────────────
axC = fig.add_axes(rect(237, 634, 305, 542))
dots(axC, C_w_t, [C_w, C_w_2], COL_W, ms=3.6)
tC1 = twin(axC, (12.0, 14.0), 58.3, [12.0, 12.5, 13.0, 13.5, 14.0], "%.1f")
dots(tC1, C_T_t, [C_T, C_T_2], COL_T, ms=4.4)
tC2 = twin(axC, (40, 70), 118.8, [40, 45, 50, 55, 60, 65, 70], "%d")
tC2.plot(C_cb_t, C_cb, color="black", lw=3.0)
style(axC, (11.0, 11.2985), (-1, 1), [11.0, 11.1, 11.2], [-1, -0.5, 0, 0.5, 1],
      "%.1f", True, xfmt="%.1f", letter="C")

# ── panel D ──────────────────────────────────────────────────────────────────
axD = fig.add_axes(rect(637, 1033, 305, 542))
dots(axD, D_t, [D_w, D_w_2], COL_W, ms=3.6)
tD1 = twin(axD, (12.0, 14.0))
dots(tD1, D_t, [D_T, D_T_2], COL_T, ms=4.4)
style(axD, (11.0, 11.249), (-1, 1), [11.0, 11.1, 11.2], [-1, -0.5, 0, 0.5, 1],
      "%.1f", False, xfmt="%.2f", letter="D", letter_x=0.06)

# ── panel E ──────────────────────────────────────────────────────────────────
axE = fig.add_axes(rect(235.5, 634, 695, 933))
axE.axvspan(*E_band, color=COL_BAND, lw=0, zorder=0)
dots(axE, E_t, [E_lwc, E_lwc_2], COL_LWC)
tE1 = twin(axE, (0, 50), 60.2, [0, 10, 20, 30, 40, 50], "%d")
dots(tE1, E_t, [E_dv, E_dv_2], COL_DV)
tE2 = twin(axE, (0, 300), 112.8, [0, 50, 100, 150, 200, 250, 300], "%d")
dots(tE2, E_t, [E_cdnc, E_cdnc_2], COL_CDNC)
style(axE, (5.90, 6.0953), (0, 0.6), [6.00], np.arange(0, 0.61, 0.1), "%.1f",
      True, letter="E")

# ── panel F ──────────────────────────────────────────────────────────────────
axF = fig.add_axes(rect(637, 1033, 695, 933))
axF.axvspan(*F_band, color=COL_BAND, lw=0, zorder=0)
dots(axF, F_t, [F_lwc, F_lwc_2], COL_LWC)
tF1 = twin(axF, (0, 50))
dots(tF1, F_t, [F_dv, F_dv_2], COL_DV)
tF2 = twin(axF, (0, 300))
dots(tF2, F_t, [F_cdnc, F_cdnc_2], COL_CDNC)
style(axF, (0.30, 0.50), (0, 0.6), [0.40], np.arange(0, 0.61, 0.1), "%.1f",
      False, letter="F", letter_x=0.06)

# ── panel G ──────────────────────────────────────────────────────────────────
axG = fig.add_axes(rect(235.5, 634, 951, 1187))
axG.axvspan(*E_band, color=COL_BAND, lw=0, zorder=0)
for tt, vv in ((G_T_t, G_T), (G_T2_t, G_T2), (G_T3_t, G_T3)):
    axG.plot(tt, vv, color=COL_T, lw=3.0, solid_capstyle="butt")
tG = twin(axG, (100, 300), 71.3, [100, 150, 200, 250, 300], "%d")
tG.plot(G_cb_t, G_cb, color="black", lw=3.0)
style(axG, (5.90, 6.0953), (13.0, 14.0), [5.90, 5.95, 6.00, 6.05],
      np.arange(13.0, 14.01, 0.2), "%.1f", True, xfmt="%.2f", letter="G")

# ── panel H ──────────────────────────────────────────────────────────────────
axH = fig.add_axes(rect(637, 1033, 951, 1187))
axH.axvspan(*F_band, color=COL_BAND, lw=0, zorder=0)
axH.plot(H_T_t, H_T, color=COL_T, lw=3.0, solid_capstyle="butt")
tH = twin(axH, (100, 300))
tH.plot(H_cb_t, H_cb, color="black", lw=3.0)
style(axH, (0.30, 0.50), (13.0, 14.0), [0.30, 0.35, 0.40, 0.45, 0.50],
      np.arange(13.0, 14.01, 0.2), "%.1f", False, xfmt="%.2f", letter="H",
      letter_x=0.06)


def sq(c):
    return Line2D([], [], ls="none", marker="s", ms=5, mew=0, color=c)


handles = [sq(COL_LWC), sq(COL_W), sq(COL_DV), sq(COL_T), sq(COL_CDNC),
           Line2D([], [], color="black", lw=2.2)]
labels = ["LWC", "w", "D$_v$", "T", "CDNC", "CB"]
leg = tH.legend(handles, labels, ncol=3, loc="center", bbox_to_anchor=(0.457, 0.218),
                fontsize=15, frameon=True, fancybox=False, framealpha=1,
                edgecolor="black", handlelength=1.8, handletextpad=0.5,
                columnspacing=0.7, labelspacing=0.55, borderpad=0.35)
leg.get_frame().set_linewidth(LW)

# ── titles and axis labels ───────────────────────────────────────────────────
for x, y, s in ((437, 22, "E-PEACE July 16"), (827, 22, "E-PEACE August 10"),
                (437, 660, "SOLEDAD June 01"), (817, 662, "SOLEDAD June 13")):
    fig.text(x / FIG_W, 1 - y / FIG_H, s, fontsize=20.5, ha="center", va="center")

for x, y in ((437, 606), (838, 606), (437, 1250), (835, 1250)):
    fig.text(x / FIG_W, 1 - y / FIG_H, "Time (hour, LT)", fontsize=14,
             ha="center", va="center")

vlabel(28, 168, "CDNC (cm$^{-3}$)")
vlabel(110, 168, "D$_v$ (µm)")
vlabel(187, 168, "LWC (g m$^{-3}$)")
vlabel(25, 425, "CB (m)")
vlabel(97, 425, "T ($^o$C)")
vlabel(188, 425, "w  (m s$^{-1}$)")
vlabel(28, 813, "CDNC (cm$^{-3}$)")
vlabel(110, 813, "D$_v$ (µm)")
vlabel(185, 813, "LWC (g m$^{-3}$)")
vlabel(72, 1068, "CB (m)")
vlabel(175, 1068, "T ($^o$C)")

fig.savefig("out.png", dpi=100)
